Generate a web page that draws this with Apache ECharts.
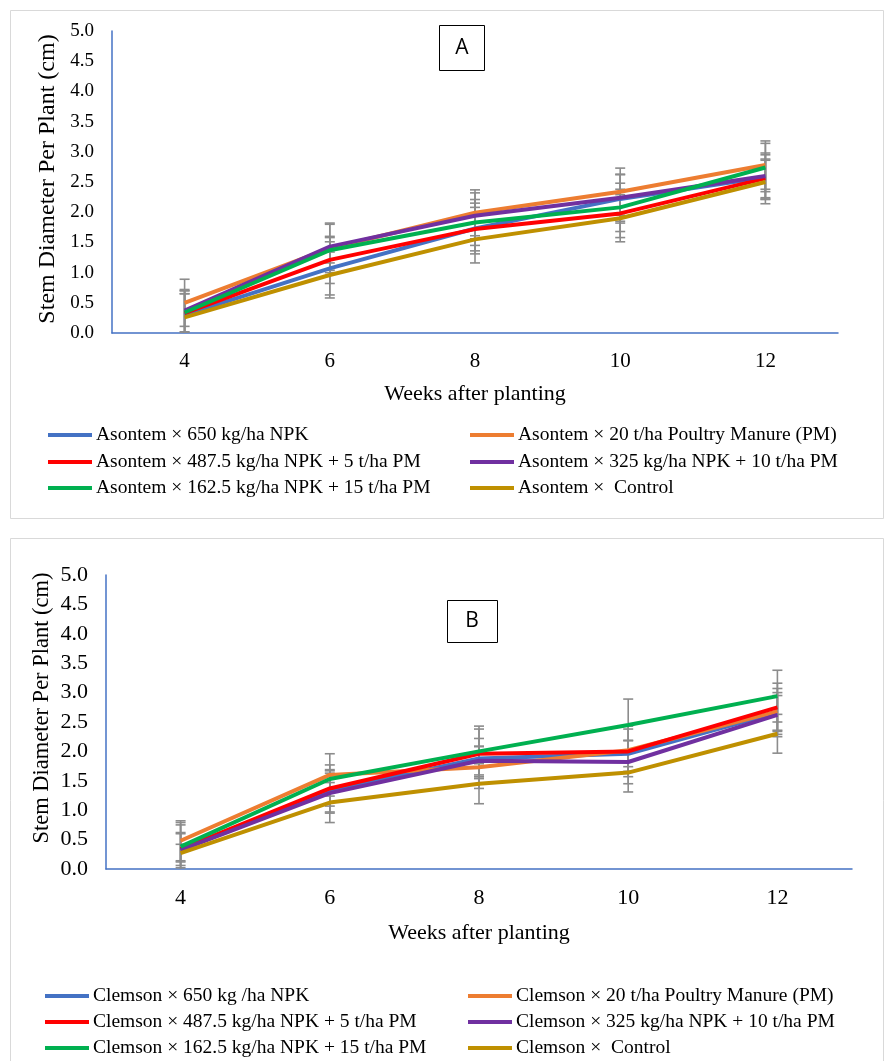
<!DOCTYPE html>
<html>
<head>
<meta charset="utf-8">
<script src="https://cdn.jsdelivr.net/npm/echarts@6/dist/echarts.min.js"></script>
<style>
  html, body { margin: 0; padding: 0; background: #ffffff; }
  #chart { width: 886px; height: 1061px; }
</style>
</head>
<body>
<div id="chart"></div>
<script>
// Weeks after planting (category axis labels)
const weeks = ['4', '6', '8', '10', '12'];

// Panel A — Asontem, stem diameter (cm)
const a650NPK      = [0.30, 1.07, 1.73, 2.22, 2.58];
const a20PM        = [0.50, 1.40, 1.99, 2.34, 2.78];
const a487NPK5PM   = [0.33, 1.21, 1.72, 1.98, 2.56];
const a325NPK10PM  = [0.37, 1.43, 1.94, 2.24, 2.60];
const a162NPK15PM  = [0.34, 1.37, 1.83, 2.08, 2.74];
const aControl     = [0.26, 0.96, 1.55, 1.90, 2.50];

// Panel A — error bar half-widths
const a650NPKErr     = [0.40, 0.44, 0.42, 0.40, 0.37];
const a20PMErr       = [0.39, 0.40, 0.38, 0.39, 0.40];
const a487NPK5PMErr  = [0.32, 0.39, 0.36, 0.40, 0.32];
const a325NPK10PMErr = [0.35, 0.39, 0.38, 0.39, 0.38];
const a162NPK15PMErr = [0.36, 0.21, 0.38, 0.40, 0.40];
const aControlErr    = [0.39, 0.38, 0.39, 0.39, 0.36];

// Panel B — Clemson, stem diameter (cm)
const c650NPK      = [0.33, 1.33, 1.88, 1.96, 2.66];
const c20PM        = [0.48, 1.60, 1.73, 2.02, 2.68];
const c487NPK5PM   = [0.34, 1.37, 1.96, 2.00, 2.75];
const c325NPK10PM  = [0.32, 1.29, 1.84, 1.82, 2.62];
const c162NPK15PM  = [0.38, 1.53, 2.00, 2.45, 2.94];
const cControl     = [0.27, 1.13, 1.45, 1.64, 2.30];

// Panel B — error bar half-widths
const c650NPKErr     = [0.27, 0.36, 0.34, 0.22, 0.41];
const c20PMErr       = [0.34, 0.36, 0.36, 0.36, 0.32];
const c487NPK5PMErr  = [0.41, 0.30, 0.42, 0.43, 0.41];
const c325NPK10PMErr = [0.30, 0.34, 0.24, 0.37, 0.33];
const c162NPK15PMErr = [0.41, 0.24, 0.43, 0.44, 0.44];
const cControlErr    = [0.15, 0.34, 0.34, 0.33, 0.33];

const namesA = [
  'Asontem × 650 kg/ha NPK',
  'Asontem × 20 t/ha Poultry Manure (PM)',
  'Asontem × 487.5 kg/ha NPK + 5 t/ha PM',
  'Asontem × 325 kg/ha NPK + 10 t/ha PM',
  'Asontem × 162.5 kg/ha NPK + 15 t/ha PM',
  'Asontem ×  Control'
];
const namesB = [
  'Clemson × 650 kg /ha NPK',
  'Clemson × 20 t/ha Poultry Manure (PM)',
  'Clemson × 487.5 kg/ha NPK + 5 t/ha PM',
  'Clemson × 325 kg/ha NPK + 10 t/ha PM',
  'Clemson × 162.5 kg/ha NPK + 15 t/ha PM',
  'Clemson ×  Control'
];
const colors = ['#4472C4', '#ED7D31', '#FF0000', '#7030A0', '#00B050', '#BF9000'];

const valuesA = [a650NPK, a20PM, a487NPK5PM, a325NPK10PM, a162NPK15PM, aControl];
const errorsA = [a650NPKErr, a20PMErr, a487NPK5PMErr, a325NPK10PMErr, a162NPK15PMErr, aControlErr];
const valuesB = [c650NPK, c20PM, c487NPK5PM, c325NPK10PM, c162NPK15PM, cControl];
const errorsB = [c650NPKErr, c20PMErr, c487NPK5PMErr, c325NPK10PMErr, c162NPK15PMErr, cControlErr];

const SERIF = 'Liberation Serif, Times New Roman, serif';
const AXIS_BLUE = '#4472C4';
const ERR_GRAY = '#8c8c8c';

function errorBarSeries(values, errs, gi) {
  return {
    type: 'custom',
    xAxisIndex: gi, yAxisIndex: gi,
    z: 1,
    silent: true,
    clip: true,
    data: values.map((v, i) => [i, v, errs[i]]),
    renderItem: function (params, api) {
      const x = api.value(0), v = api.value(1), e = api.value(2);
      const top = api.coord([x, v + e]);
      const bot = api.coord([x, v - e]);
      const half = 5;
      const st = { stroke: ERR_GRAY, lineWidth: 1.6 };
      return {
        type: 'group',
        children: [
          { type: 'line', shape: { x1: top[0], y1: top[1], x2: bot[0], y2: bot[1] }, style: st },
          { type: 'line', shape: { x1: top[0] - half, y1: top[1], x2: top[0] + half, y2: top[1] }, style: st },
          { type: 'line', shape: { x1: bot[0] - half, y1: bot[1], x2: bot[0] + half, y2: bot[1] }, style: st }
        ]
      };
    }
  };
}

function lineSeries(name, values, color, gi) {
  return {
    type: 'line',
    name: name,
    xAxisIndex: gi, yAxisIndex: gi,
    z: 3,
    data: values,
    symbol: 'none',
    lineStyle: { color: color, width: 4 },
    itemStyle: { color: color },
    emphasis: { disabled: true },
    animation: false
  };
}

const series = [];
for (let i = 0; i < 6; i++) series.push(errorBarSeries(valuesA[i], errorsA[i], 0));
for (let i = 0; i < 6; i++) series.push(errorBarSeries(valuesB[i], errorsB[i], 1));
for (let i = 0; i < 6; i++) series.push(lineSeries(namesA[i], valuesA[i], colors[i], 0));
for (let i = 0; i < 6; i++) series.push(lineSeries(namesB[i], valuesB[i], colors[i], 1));

function xAxisCfg(gi, labelSize, nameGap) {
  return {
    type: 'category', gridIndex: gi, data: weeks, boundaryGap: true,
    axisLine: { show: true, lineStyle: { color: AXIS_BLUE, width: 1.5 } },
    axisTick: { show: false },
    axisLabel: { fontFamily: SERIF, fontSize: labelSize, color: '#000', margin: 18 },
    splitLine: { show: false },
    name: 'Weeks after planting', nameLocation: 'middle', nameGap: nameGap,
    nameTextStyle: { fontFamily: SERIF, fontSize: 22, color: '#000' }
  };
}
function yAxisCfg(gi, labelSize, margin) {
  return {
    type: 'value', gridIndex: gi, min: 0, max: 5, interval: 0.5,
    axisLine: { show: true, lineStyle: { color: AXIS_BLUE, width: 1.5 } },
    axisTick: { show: false },
    splitLine: { show: false },
    axisLabel: {
      fontFamily: SERIF, fontSize: labelSize, color: '#000', margin: margin,
      formatter: v => v.toFixed(1)
    }
  };
}

// one legend component per entry so each row sits at its own height
function legendItem(name, left, cy) {
  return {
    orient: 'horizontal', left: left, top: cy - 12, padding: 0,
    data: [name], itemWidth: 44, itemHeight: 4, itemGap: 0,
    icon: 'rect',
    selectedMode: false,
    textStyle: { fontFamily: SERIF, fontSize: 19.5, color: '#000', padding: [0, 0, 0, -1], lineHeight: 24 }
  };
}

const legendRowsA = [435, 462, 488];
const legendRowsB = [996, 1022, 1048];
const legends = [];
for (let r = 0; r < 3; r++) {
  legends.push(legendItem(namesA[2 * r], 48, legendRowsA[r]));
  legends.push(legendItem(namesA[2 * r + 1], 470, legendRowsA[r]));
  legends.push(legendItem(namesB[2 * r], 45, legendRowsB[r]));
  legends.push(legendItem(namesB[2 * r + 1], 468, legendRowsB[r]));
}

const option = {
  animation: false,
  backgroundColor: '#ffffff',
  grid: [
    { left: 112, top: 31, width: 726, height: 302 },
    { left: 106, top: 575, width: 746, height: 294 }
  ],
  xAxis: [xAxisCfg(0, 21, 50), xAxisCfg(1, 22, 53)],
  yAxis: [yAxisCfg(0, 19, 18), yAxisCfg(1, 22, 18)],
  legend: legends,
  graphic: [
    // panel frames
    { type: 'rect', z: -10, shape: { x: 10.5, y: 10.5, width: 873, height: 508 },
      style: { fill: 'none', stroke: '#d9d9d9', lineWidth: 1 } },
    { type: 'rect', z: -10, shape: { x: 10.5, y: 538.5, width: 873, height: 540 },
      style: { fill: 'none', stroke: '#d9d9d9', lineWidth: 1 } },
    // panel tags
    { type: 'rect', shape: { x: 439.5, y: 25.5, width: 45, height: 45 },
      style: { fill: '#fff', stroke: '#000', lineWidth: 1 } },
    { type: 'text', x: 462, y: 48, style: { text: 'A', fontFamily: 'Open Sans, sans-serif', fontSize: 21,
      fill: '#000', align: 'center', verticalAlign: 'middle' } },
    { type: 'rect', shape: { x: 447.5, y: 600.5, width: 50, height: 42 },
      style: { fill: '#fff', stroke: '#000', lineWidth: 1 } },
    { type: 'text', x: 472, y: 621, style: { text: 'B', fontFamily: 'Open Sans, sans-serif', fontSize: 21,
      fill: '#000', align: 'center', verticalAlign: 'middle' } },
    // y-axis titles
    { type: 'text', x: 48, y: 179, rotation: Math.PI / 2,
      style: { text: 'Stem Diameter Per Plant (cm)', fontFamily: SERIF, fontSize: 24, fill: '#000',
        align: 'center', verticalAlign: 'middle' } },
    { type: 'text', x: 42, y: 708, rotation: Math.PI / 2,
      style: { text: 'Stem Diameter Per Plant (cm)', fontFamily: SERIF, fontSize: 22.5, fill: '#000',
        align: 'center', verticalAlign: 'middle' } }
  ],
  series: series
};

const chart = echarts.init(document.getElementById('chart'), null, { renderer: 'canvas' });
chart.setOption(option);
</script>
</body>
</html>
